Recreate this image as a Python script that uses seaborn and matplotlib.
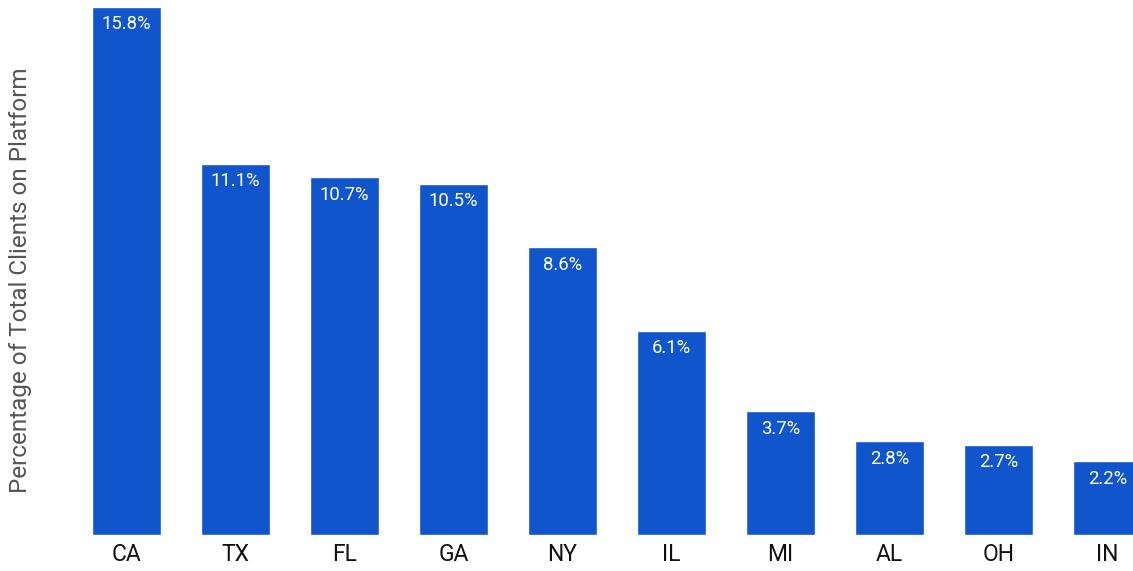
import pandas as pd
import matplotlib
matplotlib.use("Agg")
import matplotlib.pyplot as plt
import seaborn as sns

states = ["CA", "TX", "FL", "GA", "NY", "IL", "MI", "AL", "OH", "IN"]
shares = [15.8, 11.1, 10.7, 10.5, 8.6, 6.1, 3.7, 2.8, 2.7, 2.2]
labels = [f"{v:.1f}%" for v in shares]

BAR_COLOR = "#1155CC"

sns.set_style("white")
plt.rcParams["font.family"] = ["Roboto", "DejaVu Sans"]

df = pd.DataFrame({"state": states, "share": shares})

fig = plt.figure(figsize=(11.33, 5.71), dpi=100)
ax = fig.add_axes([72 / 1133, 36 / 571, 1 - 72 / 1133, 1 - 36 / 571])

sns.barplot(data=df, x="state", y="share", color=BAR_COLOR, width=0.64,
            saturation=1, ax=ax)

for bar, lab in zip(ax.patches, labels):
    ax.annotate(lab, (bar.get_x() + bar.get_width() / 2, bar.get_height()),
                xytext=(0, -6), textcoords="offset points",
                ha="center", va="top", color="white", fontsize=13.3)

ax.set_xlim(-0.5, (1133 - 126.5) / 109)
ax.set_ylim(0, 16.0)
ax.set_yticks([])
ax.set_xlabel("")
ax.set_ylabel("")
ax.tick_params(axis="x", length=0, pad=6, labelsize=16.5, labelcolor="#111111")
sns.despine(ax=ax, left=True, bottom=True)

# y-axis title sits a little below the axes centre in the reference
fig.text(21 / 1133, 1 - 280 / 571, "Percentage of Total Clients on Platform",
         rotation=90, ha="center", va="center", fontsize=17.5, color="#555555")

fig.savefig("out.png", dpi=100)
